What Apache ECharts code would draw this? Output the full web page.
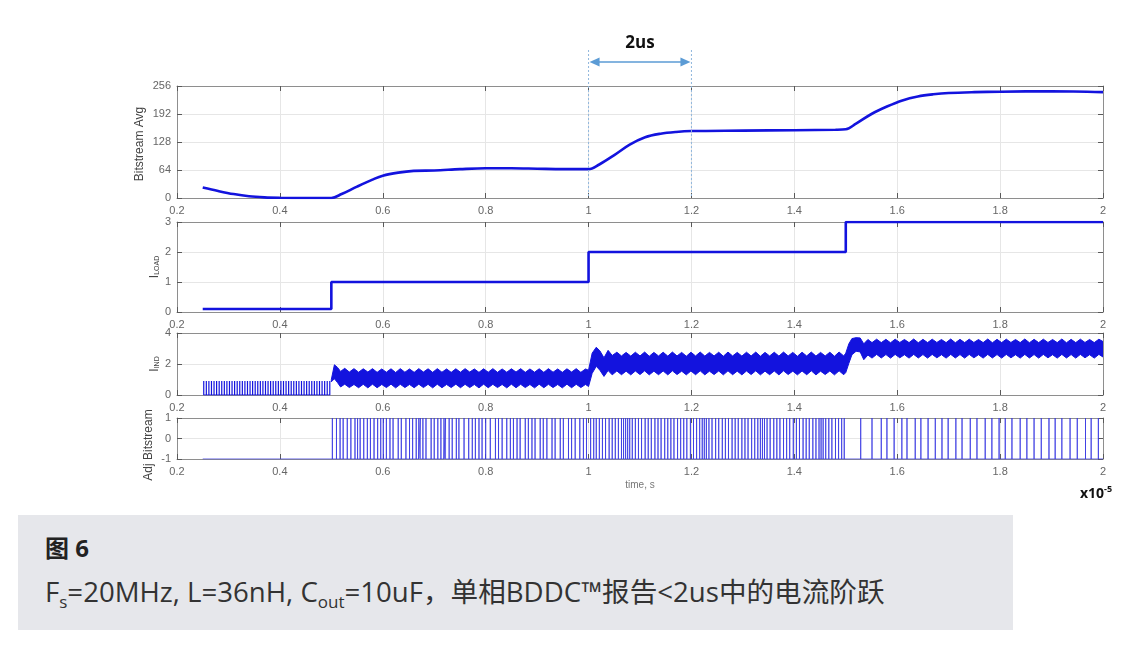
<!DOCTYPE html>
<html>
<head>
<meta charset="utf-8">
<script src="https://cdn.jsdelivr.net/npm/echarts@6/dist/echarts.min.js"></script>
<style>
  html, body { margin: 0; padding: 0; background: #ffffff; }
  #chart { position: absolute; left: 0; top: 0; width: 1136px; height: 648px; }
  #caption {
    position: absolute; left: 18px; top: 515px; width: 995px; height: 115px;
    background: #e6e7eb; color: #333;
    font-family: "Open Sans", "Noto Sans CJK SC", sans-serif;
  }
  #caption .fig { position: absolute; left: 27px; top: 17px; font-size: 24px; font-weight: bold; color: #222; line-height: 32px; }
  #caption .desc { position: absolute; left: 27px; top: 58px; font-size: 27.6px; line-height: 36px; white-space: nowrap; }
  #caption sub { font-size: 17px; vertical-align: -6px; line-height: 0; }
</style>
</head>
<body>
<div id="chart"></div>
<div id="caption">
  <div class="fig">图 6</div>
  <div class="desc">F<sub>s</sub>=20MHz, L=36nH, C<sub>out</sub>=10uF，单相BDDC™报告&lt;2us中的电流阶跃</div>
</div>
<script>
// ---- time axis (units of 1e-5 s) ----
const xMin = 0.2, xMax = 2, xStep = 0.2;

// ---- Bitstream Avg ----
const avgT = [0.25,0.28,0.31,0.34,0.37,0.40,0.45,0.50,0.52,0.55,0.58,0.60,0.63,0.66,0.70,0.75,0.80,0.85,0.90,0.95,1.00,
              1.02,1.05,1.08,1.11,1.14,1.17,1.20,1.30,1.40,1.48,1.50,1.52,1.55,1.58,1.61,1.64,1.67,1.70,1.75,1.80,1.90,2.00];
const avgV = [24,16,9,4,1.5,0.5,0,0,9,26,42,51,58,62,63,66,68,68,67,66,66,
              76,98,122,139,147,151,153,154,155,156,157,170,192,209,223,232,237,240,242,243,244,242];

// ---- I_LOAD (step changes) ----
const loadT = [0.25, 0.5, 1.0, 1.5, 2.0];
const loadV = [0.1, 1, 2, 3, 3];

// ---- I_IND: discontinuous-mode pulses before the first step ----
const dcmT = [0.252,0.257,0.262,0.267,0.272,0.277,0.282,0.287,0.292,0.297,0.302,0.307,0.312,0.317,0.322,0.327,0.332,
              0.337,0.342,0.347,0.352,0.357,0.362,0.367,0.372,0.377,0.382,0.387,0.392,0.397,0.402,0.407,0.412,0.417,
              0.422,0.427,0.432,0.437,0.442,0.447,0.452,0.457,0.462,0.467,0.472,0.477,0.482,0.487,0.492,0.497];
const dcmPeak = 0.9;

// ---- I_IND ripple band: [time, upper, lower] ----
const indBandA = [
  [0.500,1.00,0.85],[0.506,1.95,1.05],[0.512,1.78,0.80],[0.518,1.52,0.52],[0.526,1.72,0.70],[0.535,1.48,0.48],
  [0.544,1.70,0.68],[0.553,1.47,0.47],[0.562,1.69,0.69],[0.571,1.48,0.46],[0.580,1.70,0.70],[0.589,1.46,0.47],
  [0.598,1.68,0.68],[0.607,1.47,0.48],[0.616,1.69,0.70],[0.625,1.45,0.46],[0.634,1.70,0.69],[0.643,1.47,0.48],
  [0.652,1.68,0.68],[0.661,1.46,0.47],[0.670,1.70,0.70],[0.679,1.48,0.48],[0.688,1.69,0.69],[0.697,1.46,0.46],
  [0.706,1.70,0.70],[0.715,1.47,0.47],[0.724,1.68,0.68],[0.733,1.46,0.48],[0.742,1.69,0.70],[0.751,1.47,0.47],
  [0.760,1.70,0.69],[0.769,1.48,0.48],[0.778,1.68,0.68],[0.787,1.46,0.46],[0.796,1.69,0.70],[0.805,1.47,0.47],
  [0.814,1.70,0.69],[0.823,1.46,0.48],[0.832,1.68,0.68],[0.841,1.47,0.46],[0.850,1.69,0.70],[0.859,1.48,0.47],
  [0.868,1.70,0.69],[0.877,1.46,0.48],[0.886,1.68,0.68],[0.895,1.47,0.46],[0.904,1.69,0.70],[0.913,1.46,0.47],
  [0.922,1.70,0.69],[0.931,1.47,0.48],[0.940,1.68,0.68],[0.949,1.46,0.46],[0.958,1.69,0.70],[0.967,1.48,0.47],
  [0.976,1.70,0.69],[0.985,1.46,0.48],[0.994,1.68,0.68]
];
const indBandB = [
  [1.000,1.60,0.55],[1.007,2.70,1.40],[1.015,3.08,1.85],[1.022,2.85,1.60],[1.030,2.40,1.20],[1.038,2.88,1.58],
  [1.046,2.55,1.30],[1.055,2.76,1.55],[1.064,2.52,1.31],[1.073,2.75,1.54],[1.082,2.51,1.30],[1.091,2.76,1.55],
  [1.100,2.52,1.32],[1.109,2.77,1.56],[1.118,2.50,1.30],[1.127,2.75,1.54],[1.136,2.52,1.31],[1.145,2.76,1.55],
  [1.154,2.51,1.30],[1.163,2.77,1.56],[1.172,2.52,1.32],[1.181,2.75,1.54],[1.190,2.50,1.30],[1.199,2.76,1.55],
  [1.208,2.52,1.31],[1.217,2.77,1.56],[1.226,2.51,1.30],[1.235,2.75,1.54],[1.244,2.52,1.32],[1.253,2.76,1.55],
  [1.262,2.50,1.30],[1.271,2.77,1.56],[1.280,2.52,1.31],[1.289,2.75,1.54],[1.298,2.51,1.30],[1.307,2.76,1.55],
  [1.316,2.52,1.32],[1.325,2.77,1.56],[1.334,2.50,1.30],[1.343,2.75,1.54],[1.352,2.52,1.31],[1.361,2.76,1.55],
  [1.370,2.51,1.30],[1.379,2.77,1.56],[1.388,2.52,1.32],[1.397,2.75,1.54],[1.406,2.50,1.30],[1.415,2.76,1.55],
  [1.424,2.52,1.31],[1.433,2.77,1.56],[1.442,2.51,1.30],[1.451,2.75,1.54],[1.460,2.52,1.32],[1.469,2.76,1.55],
  [1.478,2.50,1.30],[1.487,2.77,1.56],[1.496,2.52,1.31]
];
const indBandC = [
  [1.500,2.70,1.45],[1.506,3.30,2.05],[1.512,3.64,2.60],[1.520,3.70,2.82],[1.528,3.68,2.78],[1.535,3.30,2.28],
  [1.543,3.58,2.58],[1.551,3.38,2.38],[1.560,3.60,2.62],[1.569,3.38,2.39],[1.578,3.59,2.61],[1.587,3.37,2.38],
  [1.596,3.60,2.62],[1.605,3.39,2.40],[1.614,3.58,2.60],[1.623,3.38,2.38],[1.632,3.61,2.62],[1.641,3.37,2.39],
  [1.650,3.59,2.61],[1.659,3.38,2.38],[1.668,3.60,2.62],[1.677,3.39,2.40],[1.686,3.58,2.60],[1.695,3.38,2.38],
  [1.704,3.61,2.62],[1.713,3.37,2.39],[1.722,3.59,2.61],[1.731,3.38,2.38],[1.740,3.60,2.62],[1.749,3.39,2.40],
  [1.758,3.58,2.60],[1.767,3.38,2.38],[1.776,3.61,2.62],[1.785,3.37,2.39],[1.794,3.59,2.61],[1.803,3.38,2.38],
  [1.812,3.60,2.62],[1.821,3.39,2.40],[1.830,3.58,2.60],[1.839,3.38,2.38],[1.848,3.61,2.62],[1.857,3.37,2.39],
  [1.866,3.59,2.61],[1.875,3.38,2.38],[1.884,3.60,2.62],[1.893,3.39,2.40],[1.902,3.58,2.60],[1.911,3.38,2.38],
  [1.920,3.61,2.62],[1.929,3.37,2.39],[1.938,3.59,2.61],[1.947,3.38,2.38],[1.956,3.60,2.62],[1.965,3.39,2.40],
  [1.974,3.58,2.60],[1.983,3.38,2.38],[1.992,3.60,2.62],[2.000,3.45,2.45]
];

// ---- Adj Bitstream: instants of the +1 pulses ----
const bitPulseT = [
  0.502,0.510,0.517,0.523,0.531,0.538,0.546,0.551,0.556,0.563,0.570,0.576,0.583,0.590,0.596,0.601,0.607,0.614,0.620,
  0.630,0.636,0.645,0.652,0.658,0.665,0.670,0.673,0.678,0.684,0.694,0.700,0.707,0.713,0.719,0.722,0.729,0.735,0.743,
  0.748,0.758,0.767,0.774,0.780,0.787,0.793,0.800,0.809,0.819,0.825,0.832,0.841,0.848,0.854,0.861,0.867,0.877,0.883,
  0.890,0.896,0.906,0.912,0.919,0.929,0.935,0.945,0.951,0.961,0.967,0.974,0.983,0.990,0.996,
  1.004,1.010,1.015,1.021,1.027,1.033,1.040,1.046,1.052,1.058,1.064,1.068,1.072,1.076,1.080,1.085,1.091,1.097,1.103,
  1.110,1.116,1.122,1.129,1.135,1.141,1.148,1.154,1.160,1.166,1.173,1.179,1.185,1.191,1.198,1.204,1.210,1.216,1.221,
  1.225,1.229,1.234,1.240,1.247,1.253,1.260,1.266,1.272,1.279,1.285,1.291,1.298,1.304,1.310,1.317,1.323,1.329,1.334,
  1.338,1.342,1.347,1.353,1.360,1.366,1.372,1.379,1.385,1.391,1.398,1.404,1.410,1.417,1.423,1.429,1.436,1.442,1.448,
  1.452,1.456,1.461,1.467,1.473,1.480,1.486,1.492,1.497,
  1.529,1.551,1.569,1.580,1.594,1.609,1.619,1.635,1.646,1.660,1.674,1.687,1.699,1.714,1.726,1.742,1.755,1.771,1.784,
  1.798,1.810,1.823,1.839,1.852,1.866,1.880,1.895,1.907,1.920,1.936,1.950,1.966,1.977,1.991
];
const bitStart = 0.25, bitEnd = 2.0;

// ---- step-time annotation ----
const spanStart = 1.0, spanEnd = 1.2, spanLabel = '2us';

// ---- panel y ranges ----
const yRanges = [
  { min: 0, max: 256, interval: 64 },
  { min: 0, max: 3, interval: 1 },
  { min: 0, max: 4, interval: 2 },
  { min: -1, max: 1, interval: 1 }
];

const BLUE = '#1313de';
const FRAME = '#8e8e8e';
const TICK = '#5a5a5a';
const LABEL = '#666666';
const GRIDLINE = '#e6e6e6';
const FONT = '"Liberation Sans", Arial, sans-serif';

const panels = [
  { top: 86, height: 112 },
  { top: 222, height: 90 },
  { top: 333, height: 62 },
  { top: 418, height: 41 }
];

const fmtX = v => String(Math.round(v * 10) / 10);

const grids = panels.map(p => ({ left: 177, right: 33, top: p.top, height: p.height, show: false }));
const xAxes = [], yAxes = [];
panels.forEach((p, i) => {
  const tick = { show: true, inside: true, length: 5, lineStyle: { color: TICK, width: 1 } };
  const line = { show: true, onZero: false, lineStyle: { color: FRAME, width: 1 } };
  xAxes.push({
    type: 'value', gridIndex: i, position: 'bottom', min: xMin, max: xMax, interval: xStep,
    axisLine: line, axisTick: tick,
    axisLabel: { color: LABEL, fontSize: 11, fontFamily: FONT, margin: 7, formatter: fmtX },
    splitLine: { show: true, lineStyle: { color: GRIDLINE, width: 1 } }
  });
  xAxes.push({
    type: 'value', gridIndex: i, position: 'top', min: xMin, max: xMax, interval: xStep,
    axisLine: line, axisTick: tick, axisLabel: { show: false }, splitLine: { show: false }
  });
  const r = yRanges[i];
  yAxes.push({
    type: 'value', gridIndex: i, position: 'left', min: r.min, max: r.max, interval: r.interval,
    axisLine: line, axisTick: tick,
    axisLabel: { color: LABEL, fontSize: 11, fontFamily: FONT, margin: 6 },
    splitLine: { show: true, lineStyle: { color: GRIDLINE, width: 1 } }
  });
  yAxes.push({
    type: 'value', gridIndex: i, position: 'right', min: r.min, max: r.max, interval: r.interval,
    axisLine: line, axisTick: tick, axisLabel: { show: false }, splitLine: { show: false }
  });
});

// line data assembled from the arrays above
const avgData = avgT.map((t, k) => [t, avgV[k]]);
const loadData = loadT.map((t, k) => [t, loadV[k]]);
const dcmData = [];
dcmT.forEach(t => { dcmData.push([t, 0], [t, dcmPeak], [t, 0]); });
const band = indBandA.concat(indBandB, indBandC);
const bitData = [[bitStart, -1]];
bitPulseT.forEach(t => { bitData.push([t, -1], [t, 1], [t, -1]); });
bitData.push([bitEnd, -1]);

const option = {
  animation: false,
  backgroundColor: '#ffffff',
  grid: grids,
  xAxis: xAxes,
  yAxis: yAxes,
  series: [
    {
      type: 'line', xAxisIndex: 0, yAxisIndex: 0, data: avgData, smooth: 0.35,
      showSymbol: false, lineStyle: { color: BLUE, width: 2.6 }
    },
    {
      type: 'line', xAxisIndex: 2, yAxisIndex: 2, data: loadData, step: 'end',
      showSymbol: false, lineStyle: { color: BLUE, width: 2.6 }
    },
    {
      type: 'line', xAxisIndex: 4, yAxisIndex: 4, data: dcmData,
      showSymbol: false, lineStyle: { color: BLUE, width: 1.2 }
    },
    {
      // ripple band of the inductor current: upper edge forward, lower edge back
      type: 'custom', xAxisIndex: 4, yAxisIndex: 4, data: [[1, 1]], clip: true,
      renderItem: function (params, api) {
        const pts = [];
        band.forEach(b => pts.push(api.coord([b[0], b[1]])));
        for (let k = band.length - 1; k >= 0; k--) pts.push(api.coord([band[k][0], band[k][2]]));
        return {
          type: 'polygon', shape: { points: pts },
          style: { fill: BLUE, stroke: BLUE, lineWidth: 1 }
        };
      }
    },
    {
      type: 'line', xAxisIndex: 6, yAxisIndex: 6, data: bitData,
      showSymbol: false, lineStyle: { color: '#3a3ae2', width: 1, opacity: 0.8 }
    }
  ]
};

const chart = echarts.init(document.getElementById('chart'), null, { renderer: 'canvas' });
chart.setOption(option);

// labels and the step-time marker
const xa = chart.convertToPixel({ xAxisIndex: 0 }, spanStart);
const xb = chart.convertToPixel({ xAxisIndex: 0 }, spanEnd);
const yBottom = chart.convertToPixel({ yAxisIndex: 0 }, yRanges[0].min);
const arrowY = 62, ARROW = '#5b9bd5';
const panelMid = i => panels[i].top + panels[i].height / 2;

chart.setOption({
  graphic: [
    { type: 'line', shape: { x1: xa, y1: 50, x2: xa, y2: yBottom }, style: { stroke: '#8fb6dd', lineWidth: 1, lineDash: [2, 2] }, z: 10 },
    { type: 'line', shape: { x1: xb, y1: 50, x2: xb, y2: yBottom }, style: { stroke: '#8fb6dd', lineWidth: 1, lineDash: [2, 2] }, z: 10 },
    { type: 'line', shape: { x1: xa + 6, y1: arrowY, x2: xb - 6, y2: arrowY }, style: { stroke: ARROW, lineWidth: 1.6 }, z: 10 },
    { type: 'polygon', shape: { points: [[xa + 1, arrowY], [xa + 11, arrowY - 4.5], [xa + 11, arrowY + 4.5]] }, style: { fill: ARROW }, z: 10 },
    { type: 'polygon', shape: { points: [[xb - 1, arrowY], [xb - 11, arrowY - 4.5], [xb - 11, arrowY + 4.5]] }, style: { fill: ARROW }, z: 10 },
    { type: 'text', x: (xa + xb) / 2, y: 43, style: { text: spanLabel, fill: '#111', font: 'bold 17px "Open Sans", sans-serif', align: 'center', verticalAlign: 'middle' } },
    { type: 'text', x: 140, y: panelMid(0) + 2, rotation: Math.PI / 2, style: { text: 'Bitstream Avg', fill: '#444', font: '12px ' + FONT, align: 'center', verticalAlign: 'middle' } },
    { type: 'text', x: 155, y: panelMid(1), rotation: Math.PI / 2,
      style: { text: '{a|I}{b|LOAD}', align: 'center', verticalAlign: 'middle',
        rich: { a: { fontSize: 12, fontFamily: FONT, fill: '#444', lineHeight: 12, verticalAlign: 'middle' },
                b: { fontSize: 7, fontFamily: FONT, fill: '#444', lineHeight: 8, verticalAlign: 'bottom' } } } },
    { type: 'text', x: 155, y: panelMid(2), rotation: Math.PI / 2,
      style: { text: '{a|I}{b|IND}', align: 'center', verticalAlign: 'middle',
        rich: { a: { fontSize: 12, fontFamily: FONT, fill: '#444', lineHeight: 12, verticalAlign: 'middle' },
                b: { fontSize: 7, fontFamily: FONT, fill: '#444', lineHeight: 8, verticalAlign: 'bottom' } } } },
    { type: 'text', x: 149, y: 445, rotation: Math.PI / 2, style: { text: 'Adj Bitstream', fill: '#444', font: '12px ' + FONT, align: 'center', verticalAlign: 'middle' } },
    { type: 'text', x: 640, y: 485, style: { text: 'time, s', fill: '#777', font: '10px ' + FONT, align: 'center', verticalAlign: 'middle' } },
    { type: 'text', x: 1096, y: 493,
      style: { text: '{a|x10}{b|-5}', align: 'center', verticalAlign: 'middle',
        rich: { a: { fontSize: 14, fontWeight: 'bold', fontFamily: '"Open Sans", sans-serif', fill: '#111', lineHeight: 16, verticalAlign: 'bottom' },
                b: { fontSize: 9, fontWeight: 'bold', fontFamily: '"Open Sans", sans-serif', fill: '#111', lineHeight: 9, verticalAlign: 'top' } } } }
  ]
});
</script>
</body>
</html>
